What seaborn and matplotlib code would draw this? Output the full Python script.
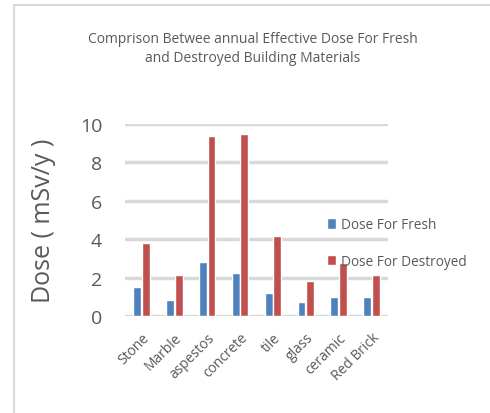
import numpy as np
import matplotlib.pyplot as plt
import pandas as pd
import matplotlib as mpl
import seaborn as sns
from matplotlib.lines import Line2D

# Data
materials = ['Stone', 'Marble', 'aspestos', 'concrete', 'tile', 'glass', 'ceramic', 'Red Brick']
dose_fresh = [1.5, 0.85, 2.8, 2.25, 1.2, 0.75, 1.0, 1.0]
dose_destroyed = [3.8, 2.15, 9.4, 9.5, 4.15, 1.8, 2.75, 2.15]
series_names = ['Dose For Fresh', 'Dose For Destroyed']

sns.set_style('white')
plt.rcParams['font.family'] = ['Open Sans', 'DejaVu Sans']
text_color = '#595959'

df = pd.DataFrame({
    'material': materials * 2,
    'dose': dose_fresh + dose_destroyed,
    'series': [series_names[0]] * len(materials) + [series_names[1]] * len(materials),
})

fig = plt.figure(figsize=(4.9, 4.14), dpi=100)
ax = fig.add_axes([125 / 490, 97 / 414, 263 / 490, 192 / 414])

sns.barplot(data=df, x='material', y='dose', hue='series',
            palette=['#4f81bd', '#c0504d'], width=0.52, gap=0.08,
            saturation=1, ax=ax)

ax.set_ylim(0, 10)
ax.set_xlim(-0.5, 7.5)
ax.set_yticks([0, 2, 4, 6, 8, 10])
ax.yaxis.grid(True, color='#d9d9d9', linewidth=2.5)
ax.set_axisbelow(True)
sns.despine(ax=ax, left=True, bottom=True, top=True, right=True)
ax.tick_params(axis='y', labelsize=14, labelcolor=text_color, length=0, pad=16.5)
ax.tick_params(axis='x', labelsize=10, labelcolor=text_color, length=0, pad=10)
plt.setp(ax.get_xticklabels(), rotation=45, ha='right', rotation_mode='anchor')
ax.set_xlabel('')
ax.set_ylabel('Dose ( mSv/y )', fontsize=18, color=text_color)
ax.yaxis.set_label_coords(-0.262, 0.5)

ax.legend(loc='center left', bbox_to_anchor=(320 / 490, 1 - 244 / 414),
          bbox_transform=fig.transFigure, frameon=False, fontsize=9.8,
          labelspacing=1.6, handlelength=0.7, handleheight=0.8,
          handletextpad=0.35, borderpad=0, labelcolor=text_color)

fig.text(253 / 490, 1 - 49 / 414,
         'Comprison Betwee annual Effective Dose For Fresh\nand Destroyed Building Materials',
         ha='center', va='center', fontsize=10, color=text_color, linespacing=1.4)

# light border of the chart area
fig.add_artist(Line2D([14 / 490, 14 / 490], [0, 1 - 6 / 414], transform=fig.transFigure,
                      color='#d9d9d9', linewidth=1.5))
fig.add_artist(Line2D([14 / 490, 1], [1 - 6 / 414, 1 - 6 / 414], transform=fig.transFigure,
                      color='#d9d9d9', linewidth=1.5))

plt.savefig('out.png', dpi=100)
